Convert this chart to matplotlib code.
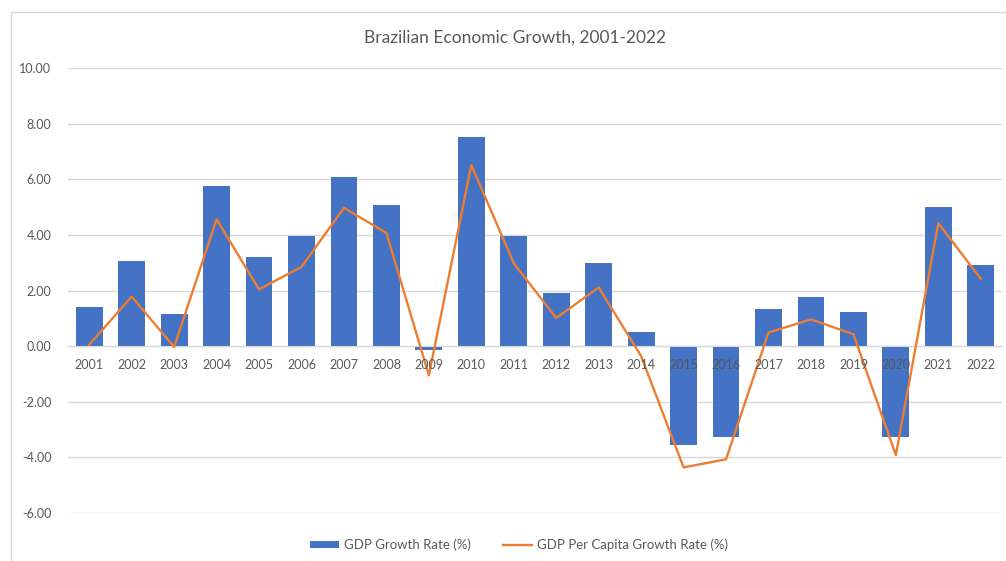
import matplotlib.pyplot as plt
from matplotlib.patches import Rectangle
from matplotlib.ticker import FormatStrFormatter
from matplotlib.transforms import offset_copy

# Dados: crescimento do PIB do Brasil, 2001-2022
anos = ['2001', '2002', '2003', '2004', '2005', '2006', '2007', '2008', '2009', '2010', '2011',
        '2012', '2013', '2014', '2015', '2016', '2017', '2018', '2019', '2020', '2021', '2022']
pib = [1.39, 3.05, 1.14, 5.76, 3.20, 3.96, 6.07, 5.09, -0.13, 7.53, 3.97,
       1.92, 3.00, 0.50, -3.55, -3.28, 1.32, 1.78, 1.22, -3.28, 4.99, 2.90]
pib_per_capita = [0.05, 1.78, -0.03, 4.56, 2.04, 2.85, 4.97, 4.07, -1.05, 6.51, 2.98,
                  1.01, 2.11, -0.36, -4.36, -4.07, 0.49, 0.96, 0.43, -3.92, 4.42, 2.42]

azul = '#4472C4'
laranja = '#ED7D31'
cinza_texto = '#595959'
cinza_linha = '#D9D9D9'

plt.rcParams['font.family'] = ['Lato', 'DejaVu Sans']

fig = plt.figure(figsize=(10.06, 5.61), dpi=100)
ax = fig.add_axes([68 / 1006, 1 - 513 / 561, 934 / 1006, 445 / 561])

# Borda do gráfico
fig.patches.append(Rectangle((11 / 1006, -0.1), 1.2, 1.1 - 12 / 561,
                             transform=fig.transFigure, fill=False,
                             edgecolor=cinza_linha, linewidth=1))

x = list(range(len(anos)))
barras = ax.bar(x, pib, width=0.63, color=azul, label='GDP Growth Rate (%)', zorder=2)
linha, = ax.plot(x, pib_per_capita, color=laranja, linewidth=1.7,
                 label='GDP Per Capita Growth Rate (%)', zorder=3)

ax.set_xlim(-0.5, len(anos) - 0.5)
ax.set_ylim(-6, 10)
ax.set_yticks([-6, -4, -2, 0, 2, 4, 6, 8, 10])
ax.yaxis.set_major_formatter(FormatStrFormatter('%.2f'))
ax.grid(axis='y', color=cinza_linha, linewidth=1, zorder=0)
ax.set_axisbelow(True)

# Eixo das categorias passando pelo zero
ax.spines['bottom'].set_position(('data', 0))
ax.spines['bottom'].set_color(cinza_linha)
for lado in ['top', 'right', 'left']:
    ax.spines[lado].set_visible(False)
ax.set_xticks([])
ax.tick_params(axis='y', length=0, pad=12, labelsize=9, labelcolor=cinza_texto)

# Rótulos dos anos logo abaixo da linha do zero, por cima das barras
trans_rotulo = offset_copy(ax.transData, fig=fig, y=-19, units='dots')
for i, ano in enumerate(anos):
    ax.text(i, 0, ano, transform=trans_rotulo, ha='center', va='center',
            fontsize=9, color=cinza_texto, zorder=5)

fig.text(515 / 1006, 1 - 38 / 561, 'Brazilian Economic Growth, 2001-2022',
         ha='center', va='center', fontsize=12.5, color=cinza_texto)

fig.legend(handles=[barras, linha], loc='center', bbox_to_anchor=(519 / 1006, 1 - 545 / 561),
           ncol=2, frameon=False, fontsize=9.5, labelcolor=cinza_texto, handlelength=2.2,
           handletextpad=0.4, columnspacing=2.4, handleheight=0.5)

fig.savefig('out.png', dpi=100)
